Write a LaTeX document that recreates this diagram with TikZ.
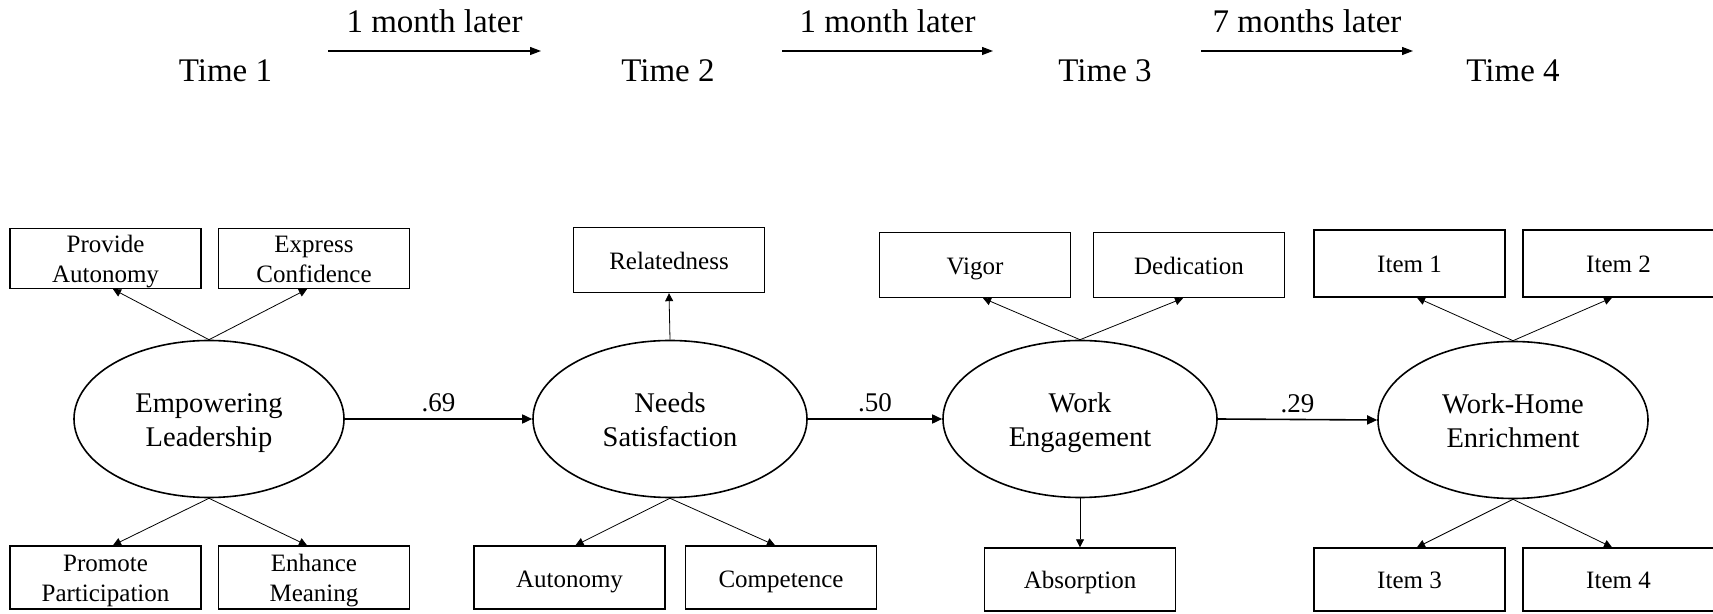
\documentclass[tikz,border=0pt]{standalone}
\usepackage{fontspec}
\setmainfont{Liberation Serif}
\usetikzlibrary{arrows.meta,shapes.geometric}
\begin{document}
\begin{tikzpicture}[x=1pt,y=1pt,
  indbox/.style={draw, line width=1.4pt, minimum width=191pt, minimum height=63pt, inner sep=0pt, align=center, font=\fontsize{25}{30}\selectfont, text height=19pt, text depth=0pt},
  twoline/.style={text height=48pt, text depth=0pt},
  latent/.style={draw, ellipse, line width=1.6pt, minimum width=270pt, minimum height=157pt, inner sep=0pt, align=center, font=\fontsize{28.5}{34.5}\selectfont, text height=56pt, text depth=0pt},
  load/.style={line width=0.8pt, -{Triangle[length=8pt,width=8pt]}},
  structarrow/.style={line width=1.6pt, -{Triangle[length=10pt,width=9pt]}},
  timelbl/.style={font=\fontsize{33}{38}\selectfont, anchor=base, inner sep=0pt},
  timearrow/.style={line width=1.2pt, -{Triangle[length=11pt,width=8pt]}},
  coef/.style={font=\fontsize{27}{32}\selectfont, anchor=base, inner sep=0pt}
]
\useasboundingbox (0,0) rectangle (1713,613);

% time row
\node[timelbl] (t1) at (225.5,531) {Time 1};
\node[timelbl] (t2) at (668,531) {Time 2};
\node[timelbl] (t3) at (1105,531) {Time 3};
\node[timelbl] (t4) at (1513,531) {Time 4};
\coordinate (a1s) at (328,562); \coordinate (a1e) at (541,562);
\coordinate (a2s) at (782,562); \coordinate (a2e) at (993,562);
\coordinate (a3s) at (1201,562); \coordinate (a3e) at (1413,562);
\draw[timearrow] (a1s) -- (a1e) node[timelbl, midway, yshift=18pt] (l1) {1 month later};
\draw[timearrow] (a2s) -- (a2e) node[timelbl, midway, yshift=18pt] (l2) {1 month later};
\draw[timearrow] (a3s) -- (a3e) node[timelbl, midway, yshift=18pt] (l3) {7 months later};

% latent variables
\node[latent] (EL) at (209,194) {Empowering\\Leadership};
\node[latent, minimum width=274pt] (NS) at (670,194) {Needs\\Satisfaction};
\node[latent, minimum width=274pt] (WE) at (1080,194) {Work\\Engagement};
\node[latent] (WHE) at (1513,193) {Work-Home\\Enrichment};

% indicators
\node[indbox, twoline, minimum height=60pt] (PA) at (105.5,354.5) {Provide\\Autonomy};
\node[indbox, twoline, minimum height=60pt] (EC) at (314,354.5) {Express\\Confidence};
\node[indbox, twoline] (PP) at (105.5,35.5) {Promote\\Participation};
\node[indbox, twoline] (EM) at (314,35.5) {Enhance\\Meaning};

\node[indbox, minimum height=65pt] (REL) at (669,353) {Relatedness};
\node[indbox] (AUT) at (569.5,35.5) {Autonomy};
\node[indbox] (COMP) at (781,35.5) {Competence};

\node[indbox, minimum height=65pt] (VIG) at (975,348) {Vigor};
\node[indbox, minimum height=65pt] (DED) at (1189,348) {Dedication};
\node[indbox] (ABS) at (1080,33.5) {Absorption};

\node[indbox, minimum height=67pt] (I1) at (1409.5,349.5) {Item 1};
\node[indbox, minimum height=67pt] (I2) at (1618.5,349.5) {Item 2};
\node[indbox] (I3) at (1409.5,33.5) {Item 3};
\node[indbox] (I4) at (1618.5,33.5) {Item 4};

% loadings
\draw[load] (EL.north) -- ([xshift=7.5pt]PA.south);
\draw[load] (EL.north) -- ([xshift=-7pt]EC.south);
\draw[load] (EL.south) -- ([xshift=7.5pt]PP.north);
\draw[load] (EL.south) -- ([xshift=-7pt]EM.north);

\draw[load] (NS.north) -- (REL.south);
\draw[load] (NS.south) -- ([xshift=6pt]AUT.north);
\draw[load] (NS.south) -- ([xshift=-6pt]COMP.north);

\draw[load] (WE.north) -- ([xshift=8pt]VIG.south);
\draw[load] (WE.north) -- ([xshift=-6pt]DED.south);
\draw[load] (WE.south) -- (ABS.north);

\draw[load] (WHE.north) -- ([xshift=7.5pt]I1.south);
\draw[load] (WHE.north) -- ([xshift=-6.5pt]I2.south);
\draw[load] (WHE.south) -- ([xshift=7.5pt]I3.north);
\draw[load] (WHE.south) -- ([xshift=-6.5pt]I4.north);

% structural paths
\draw[structarrow] (EL.east) -- (NS.west) node[coef, midway, yshift=7pt] {.69};
\draw[structarrow] (NS.east) -- (WE.west) node[coef, midway, yshift=7pt] {.50};
\draw[structarrow] (WE.east) -- (WHE.west) node[coef, midway, yshift=7pt] {.29};
\end{tikzpicture}
\end{document}
